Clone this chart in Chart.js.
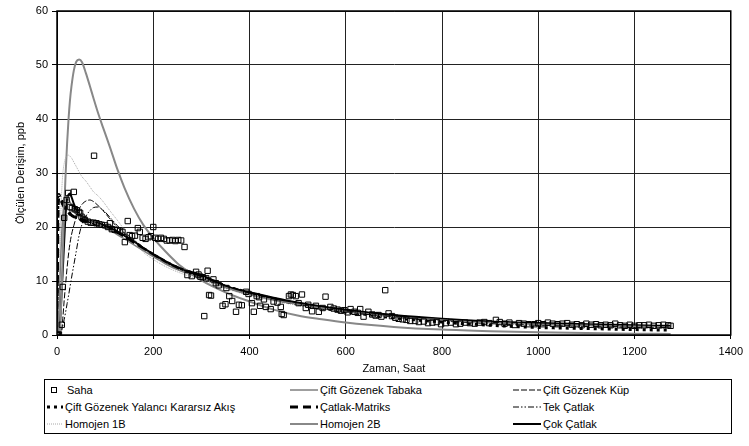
<!DOCTYPE html>
<html lang="tr">
<head>
<meta charset="UTF-8">
<title>Ölçülen Derişim</title>
<script src="https://cdn.jsdelivr.net/npm/chart.js"></script>
<style>
    body {
        margin: 0;
        background: #fff;
        font-family: "Liberation Sans", Arial, sans-serif;
    }
    .wrap {
        position: relative;
        width: 749px;
        height: 446px;
    }
    #chart {
        position: absolute;
        left: 0;
        top: 0;
    }
    .legend {
        position: absolute;
        left: 44px;
        top: 379px;
        width: 688px;
        height: 55px;
        border: 1px solid #000;
        box-sizing: border-box;
        font-size: 11px;
        color: #000;
    }
    .item {
        position: absolute;
        height: 16px;
        display: flex;
        align-items: center;
        white-space: nowrap;
    }
    .item svg {
        margin-right: 2px;
    }
</style>
</head>
<body>

<div class="wrap">
    <canvas id="chart" width="749" height="376"></canvas>
    <div class="legend" id="legend"></div>
</div>

<script>
    // time grid shared by the model curves (hours)
    const T = [0, 1, 2, 4, 6, 8, 10, 12, 15, 18, 21, 24, 27, 30, 35, 40, 46, 52, 60, 68, 76, 85, 95, 110, 125, 140, 160, 180, 200, 225, 250, 275, 300, 350, 400, 450, 500, 550, 600, 700, 800, 900, 1000, 1100, 1200, 1275];

    const ciftTabaka = [0, 0, 0.5, 4, 10, 15, 19, 22, 24.5, 25.5, 25.6, 25.2, 24.6, 24.1, 23.4, 22.8, 22.3, 21.9, 21.5, 21.1, 20.8, 20.5, 20.1, 19.4, 18.6, 17.8, 16.7, 15.6, 14.5, 13.2, 12.1, 11.3, 10.6, 8.8, 7.5, 6.5, 5.7, 5.0, 4.4, 3.4, 2.8, 2.3, 2.0, 1.8, 1.6, 1.5];
    const ciftKup = [0, 0, 0, 0, 0, 0.3, 1, 3, 6.5, 9.5, 12.5, 15, 17, 18.5, 20.3, 21.8, 23.3, 24.2, 24.8, 25.0, 24.7, 24, 23.1, 21.5, 20.0, 18.8, 17.4, 16.0, 14.8, 13.5, 12.4, 11.6, 10.9, 9.0, 7.7, 6.7, 5.9, 5.1, 4.5, 3.5, 2.9, 2.4, 2.1, 1.9, 1.7, 1.6];
    const yalanciKararsiz = [0, 18, 25, 26, 25.6, 25.2, 24.8, 24.4, 23.9, 23.5, 23.1, 22.8, 22.5, 22.3, 22.0, 21.8, 21.6, 21.4, 21.2, 21.0, 20.8, 20.6, 20.3, 19.8, 19.1, 18.3, 17.2, 16.0, 14.9, 13.6, 12.5, 11.7, 11.0, 9.1, 7.8, 6.7, 5.8, 5.0, 4.3, 3.2, 2.4, 1.8, 1.4, 1.2, 1.0, 0.9];
    const catlakMatriks = [0, 12, 22, 25.5, 25.3, 25, 24.6, 24.2, 23.7, 23.3, 23, 22.7, 22.4, 22.2, 21.9, 21.7, 21.5, 21.3, 21.1, 20.9, 20.7, 20.5, 20.2, 19.7, 19.0, 18.2, 17.1, 15.9, 14.8, 13.5, 12.4, 11.6, 10.9, 9.0, 7.7, 6.7, 5.8, 5.1, 4.5, 3.5, 2.8, 2.3, 2.0, 1.8, 1.6, 1.5];
    const tekCatlak = [0, 0, 0, 0, 0.2, 0.5, 1, 1.7, 2.9, 4.3, 5.8, 7.3, 8.9, 10.5, 13, 15.5, 18.5, 20.5, 22, 23, 23.6, 23.7, 23.2, 21.8, 20.3, 19, 17.6, 16.2, 14.9, 13.6, 12.5, 11.7, 11.0, 9.2, 7.9, 6.8, 6.0, 5.2, 4.6, 3.6, 3.0, 2.5, 2.2, 1.9, 1.7, 1.6];
    const homojen1B = [0, 0, 2, 8, 16, 22.5, 27, 29.8, 31.8, 32.8, 33.2, 33.3, 33.1, 32.8, 32, 31.2, 30.2, 29.3, 28.5, 27.5, 26.5, 25.8, 24.8, 23, 21.3, 19.5, 17.3, 15.3, 14.0, 12.7, 11.7, 10.9, 10.2, 8.6, 7.3, 6.3, 5.5, 4.8, 4.2, 3.3, 2.6, 2.1, 1.8, 1.5, 1.3, 1.2];
    const homojen2B = [0, 0, 0, 0, 1, 4, 9, 15, 23.5, 30, 35.5, 40, 43.5, 46, 49, 50.6, 51, 50.5, 48.5, 46.2, 43.8, 41.2, 38.6, 34.8, 30.8, 27.3, 23.4, 20.3, 18, 15.5, 13.3, 11.6, 10.1, 7.9, 6.2, 4.7, 3.6, 2.9, 2.3, 1.5, 1.0, 0.7, 0.5, 0.35, 0.25, 0.2];
    const cokCatlak = [0, 0, 0, 0.3, 2, 5, 8.5, 12, 17.5, 22.5, 25.2, 26, 26.2, 25.6, 24.3, 23.2, 22.4, 21.9, 21.4, 21.1, 20.9, 20.7, 20.4, 19.9, 19.2, 18.4, 17.3, 16.1, 15.0, 13.7, 12.6, 11.8, 11.1, 9.1, 7.9, 6.9, 6.0, 5.3, 4.7, 3.7, 3.0, 2.5, 2.2, 2.0, 1.8, 1.7];

    // field measurements (Saha)
    const sahaX = [0, 2, 4, 10, 12, 15, 20, 23, 35, 77, 27, 31, 37, 41, 45, 48, 51, 55, 58, 64, 70, 76, 82, 88, 93, 100, 106, 110, 114, 120, 126, 131, 136, 141, 147, 151, 156, 162, 168, 172, 178, 184, 190, 195, 200, 204, 210, 216, 222, 228, 234, 240, 246, 252, 258, 265, 271, 280, 289, 294, 298, 303, 306, 310, 313, 316, 320, 325, 330, 336, 344, 350, 352, 358, 364, 372, 378, 384, 393, 398, 405, 409, 415, 420, 422, 430, 434, 444, 450, 458, 465, 467, 471, 482, 486, 490, 496, 502, 509, 517, 522, 530, 538, 544, 552, 558, 568, 575, 583, 590, 597, 604, 610, 618, 625, 630, 637, 647, 655, 662, 668, 674, 682, 689, 696, 703, 710, 718, 726, 734, 744, 752, 762, 771, 780, 789, 798, 808, 818, 829, 838, 848, 858, 868, 878, 888, 898, 912, 920, 930, 940, 951, 960, 970, 980, 992, 1000, 1010, 1020, 1030, 1040, 1050, 1060, 1070, 1080, 1090, 1100, 1110, 1120, 1130, 1140, 1150, 1160, 1170, 1180, 1190, 1200, 1210, 1220, 1230, 1240, 1250, 1260, 1270, 1275];
    const sahaY = [0, 0, 0.1, 1.9, 8.9, 21.7, 25, 26.3, 26.5, 33.2, 23.7, 23.5, 23.3, 23.1, 22.8, 22.6, 21.9, 21.5, 21.3, 21, 20.8, 20.8, 20.7, 20.5, 20.4, 20.3, 20, 20.7, 19.6, 19.5, 19.4, 19.3, 19.1, 17.2, 21.1, 18.5, 18.3, 18.4, 19.8, 19.1, 18, 17.8, 18.1, 18.3, 20, 18, 17.8, 18, 17.8, 17.5, 17.5, 17.6, 17.4, 17.6, 17.5, 16.3, 11.1, 10.9, 11.7, 11.2, 10.8, 10.7, 3.5, 10.5, 11.9, 7.4, 7.3, 10.3, 9.6, 9.2, 5.4, 5.7, 8.7, 7.2, 6.3, 4.3, 5.6, 5.5, 8.0, 7.6, 5.9, 4.3, 7.2, 7.0, 5.4, 6.6, 5.2, 4.8, 6.2, 6.0, 5.2, 3.9, 3.7, 7.2, 7.5, 7.4, 7.2, 5.9, 7.5, 5.0, 5.6, 4.4, 5.4, 4.3, 5.0, 7.1, 5.2, 4.9, 4.7, 4.5, 4.6, 4.2, 4.8, 4.3, 4.1, 4.8, 3.4, 4.3, 3.8, 3.6, 3.7, 3.4, 8.3, 4.0, 3.5, 3.2, 3.0, 2.9, 2.8, 2.6, 2.6, 2.4, 2.5, 2.2, 2.3, 2.4, 2.0, 2.2, 2.3, 2.0, 2.1, 2.3, 2.2, 2.1, 2.3, 2.4, 2.2, 2.8, 2.4, 2.1, 2.3, 1.85, 2.2, 2.1, 2.0, 2.0, 2.2, 2.0, 2.3, 2.1, 2.0, 2.1, 2.2, 1.9, 2.0, 1.8, 2.1, 1.9, 2.0, 1.8, 1.9, 1.8, 2.1, 1.8, 1.7, 1.9, 1.7, 1.8, 1.8, 1.9, 1.7, 1.8, 1.9, 1.8, 1.7];

    const toPoints = (xs, ys) => xs.map((x, i) => ({ x: x, y: ys[i] }));

    function curve(label, values, color, width, dash, legendWidth) {
        return {
            label: label,
            data: toPoints(T, values),
            showLine: true,
            borderColor: color,
            borderWidth: width,
            borderDash: dash,
            pointRadius: 0,
            pointHoverRadius: 0,
            cubicInterpolationMode: 'monotone',
            fill: false,
            legendWidth: legendWidth
        };
    }

    const datasets = [
        {
            label: 'Saha',
            data: toPoints(sahaX, sahaY),
            showLine: false,
            pointStyle: 'rect',
            pointRadius: 3.8,
            pointBorderWidth: 1,
            pointBorderColor: '#000',
            pointBackgroundColor: 'rgba(255,255,255,0)',
            legendWidth: 18
        },
        curve('Çift Gözenek Tabaka', ciftTabaka, '#7f7f7f', 1.5, [], 28),
        curve('Çift Gözenek Küp', ciftKup, '#000', 1, [6, 2], 28),
        curve('Çift Gözenek Yalancı Kararsız Akış', yalanciKararsiz, '#000', 3, [3, 4], 16),
        curve('Çatlak-Matriks', catlakMatriks, '#000', 3, [8, 5], 28),
        curve('Tek Çatlak', tekCatlak, '#000', 1, [6, 2, 1.5, 2, 1.5, 2], 28),
        curve('Homojen 1B', homojen1B, '#a8a8a8', 1, [1, 1], 16),
        curve('Homojen 2B', homojen2B, '#888', 2, [], 28),
        curve('Çok Çatlak', cokCatlak, '#000', 2, [], 28)
    ];

    // frame around the plot area
    const framePlugin = {
        id: 'frame',
        afterDraw(chart) {
            const a = chart.chartArea;
            const c = chart.ctx;
            c.save();
            c.strokeStyle = '#000';
            c.lineWidth = 1.5;
            c.strokeRect(a.left, a.top, a.right - a.left, a.bottom - a.top);
            c.restore();
        }
    };

    const tickFont = { family: '"Liberation Sans", Arial, sans-serif', size: 11 };

    const chart = new Chart(document.getElementById('chart').getContext('2d'), {
        type: 'scatter',
        data: { datasets: datasets },
        options: {
            responsive: false,
            animation: false,
            devicePixelRatio: 1,
            layout: { padding: { top: 11, right: 15, left: 0, bottom: 0 } },
            plugins: {
                legend: { display: false },
                tooltip: { enabled: false }
            },
            scales: {
                x: {
                    type: 'linear',
                    min: 0,
                    max: 1400,
                    afterFit: s => { s.height = 41; },
                    ticks: { stepSize: 200, color: '#000', font: tickFont, padding: 6, maxRotation: 0, callback: v => String(v) },
                    grid: { color: '#222', lineWidth: 1, tickLength: 4, tickColor: '#000' },
                    border: { color: '#000', width: 1 },
                    title: { display: true, text: 'Zaman, Saat', color: '#000', font: tickFont, padding: { top: 0, bottom: 0 } }
                },
                y: {
                    min: 0,
                    max: 60,
                    afterFit: s => { s.width = 57; },
                    ticks: { stepSize: 10, color: '#000', font: tickFont, padding: 4, callback: v => String(v) },
                    grid: { color: '#222', lineWidth: 1, tickLength: 5, tickColor: '#000' },
                    border: { color: '#000', width: 1 },
                    title: { display: true, text: 'Ölçülen Derişim, ppb', color: '#000', font: tickFont, padding: { top: 14, bottom: 0 } }
                }
            }
        },
        plugins: [framePlugin]
    });

    // legend: three columns, three rows, like the original
    const colLeft = [2, 245, 468];
    const rowTop = [2, 19, 36];
    const legendDiv = document.getElementById('legend');
    datasets.forEach((ds, i) => {
        const item = document.createElement('div');
        item.className = 'item';
        item.style.left = colLeft[i % 3] + 'px';
        item.style.top = rowTop[Math.floor(i / 3)] + 'px';
        const w = ds.legendWidth;
        let sample;
        if (ds.label === 'Saha') {
            sample = `<svg width="${w}" height="10"><rect x="4.5" y="2.5" width="5" height="5" fill="none" stroke="#000" stroke-width="1"/></svg>`;
        } else {
            sample = `<svg width="${w}" height="10"><line x1="0" y1="5" x2="${w}" y2="5" stroke="${ds.borderColor}" stroke-width="${ds.borderWidth}" stroke-dasharray="${ds.borderDash.join(' ')}"/></svg>`;
        }
        item.innerHTML = sample + '<span>' + ds.label + '</span>';
        legendDiv.appendChild(item);
    });
</script>

</body>
</html>
